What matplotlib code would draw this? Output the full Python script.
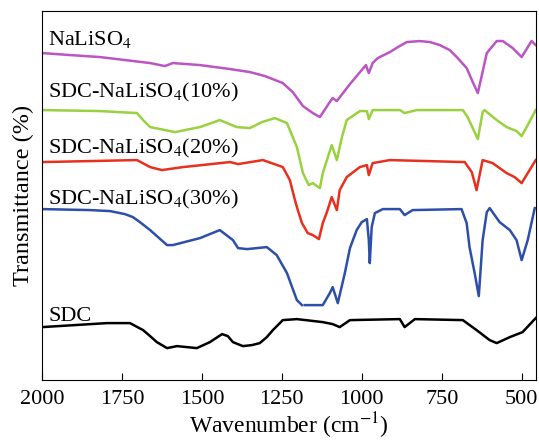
import numpy as np
import matplotlib
matplotlib.use("Agg")
import matplotlib.pyplot as plt

# ─────────────────────────────────────────────
#  Spectra (wavenumber cm-1, transmittance a.u.)
# ─────────────────────────────────────────────

naliso4_wn = [2000, 1912, 1819, 1662, 1616, 1591, 1506, 1412, 1350, 1303, 1247, 1216,
              1184, 1153, 1131, 1100, 1091, 1078, 1037, 987, 978, 966, 950, 912, 887,
              859, 819, 787, 756, 725, 703, 672, 653, 637, 609, 578, 559, 528, 500,
              469, 456]
naliso4_t = [327, 325, 323, 317, 314, 317, 315, 311, 308, 304, 297, 288,
             274, 267, 263, 278, 282, 279, 296, 315, 307, 317, 322, 328, 333,
             338, 339, 338, 335, 330, 323, 312, 298, 287, 327, 339, 339, 332, 323,
             339, 335]

sdc10_wn = [2000, 1819, 1703, 1684, 1662, 1584, 1506, 1444, 1391, 1350, 1312, 1272,
            1234, 1203, 1184, 1166, 1153, 1141, 1131, 1122, 1094, 1078, 1062, 1047,
            1006, 984, 978, 966, 881, 866, 828, 684, 669, 637, 622, 616, 578, 547,
            516, 500, 481, 456]
sdc10_t = [270, 269, 267, 260, 253, 248, 253, 260, 253, 252, 258, 262,
           257, 233, 207, 195, 197, 194, 192, 207, 235, 220, 243, 260,
           269, 269, 261, 270, 270, 267, 270, 270, 263, 241, 268, 270, 260, 253,
           249, 244, 255, 270]

sdc20_wn = [2000, 1703, 1662, 1625, 1559, 1412, 1387, 1309, 1247, 1225, 1209, 1200,
            1187, 1169, 1153, 1134, 1122, 1109, 1094, 1078, 1069, 1047, 1006, 984,
            978, 966, 912, 678, 656, 641, 622, 591, 547, 522, 500, 456]
sdc20_t = [218, 220, 213, 210, 213, 218, 216, 220, 213, 200, 180, 170,
           157, 147, 145, 141, 157, 168, 183, 170, 190, 203, 213, 215,
           205, 217, 220, 218, 208, 190, 220, 217, 207, 203, 197, 220]

# gap in the 30% trace near 1180 cm-1 is in the original
sdc30_wn = [2000, 1850, 1787, 1741, 1716, 1694, 1662, 1609, 1591, 1506, 1444, 1403,
            1387, 1359, 1297, 1266, 1234, 1203, 1187, 1182, 1178, 1122, 1100, 1091,
            1075, 1053, 1037, 1016, 1000, 984, 978, 975, 969, 959, 934, 881, 866,
            841, 688, 672, 663, 647, 634, 622, 609, 600, 569, 537, 516, 500, 481, 459]
sdc30_t = [171, 170, 169, 166, 163, 158, 150, 135, 135, 142, 150, 140,
           132, 131, 133, 125, 107, 80, 75, np.nan, 75, 75, 87, 93,
           77, 107, 132, 150, 158, 161, 140, 117, 153, 167, 171, 171, 165,
           170, 171, 157, 133, 107, 84, 140, 168, 172, 158, 150, 140, 120, 140, 172]

sdc_wn = [2000, 1797, 1725, 1684, 1662, 1641, 1609, 1578, 1547, 1516, 1475, 1456,
          1437, 1419, 1403, 1372, 1344, 1319, 1297, 1278, 1247, 1203, 1122, 1091,
          1069, 1037, 881, 866, 834, 684, 641, 600, 578, 537, 497, 456]
sdc_t = [53, 57, 57, 50, 44, 38, 32, 34, 33, 32, 38, 42,
         46, 44, 38, 34, 35, 37, 43, 50, 60, 61, 58, 56,
         53, 60, 61, 53, 61, 60, 50, 40, 37, 43, 48, 62]

labels = ["NaLiSO$_4$", "SDC-NaLiSO$_4$(10%)", "SDC-NaLiSO$_4$(20%)",
          "SDC-NaLiSO$_4$(30%)", "SDC"]
colors = ["#BB55C4", "#99D13F", "#E8301E", "#2D4FA8", "#000000"]
label_y = [335, 283, 227, 176, 59]

plt.rcParams["font.family"] = ["Liberation Serif", "DejaVu Serif"]
plt.rcParams["mathtext.fontset"] = "stix"

fig = plt.figure(figsize=(5.39, 4.42), dpi=100)
ax = fig.add_axes([0.078, 0.140, 0.9165, 0.835])

series = [(naliso4_wn, naliso4_t), (sdc10_wn, sdc10_t), (sdc20_wn, sdc20_t),
          (sdc30_wn, sdc30_t), (sdc_wn, sdc_t)]
for (wn, t), lab, col, ly in zip(series, labels, colors, label_y):
    ax.plot(wn, t, color=col, lw=1.8)
    ax.text(1981, ly, lab, fontsize=16, va="baseline", ha="left")

ax.set_xlim(2000, 455)
ax.set_ylim(0, 369)
ax.set_xticks([2000, 1750, 1500, 1250, 1000, 750, 500])
ax.set_yticks([])
ax.tick_params(axis="x", direction="in", length=5, labelsize=16, pad=7)
ax.set_xlabel("Wavenumber (cm$^{-1}$)", fontsize=17, labelpad=1)
ax.set_ylabel("Transmittance (%)", fontsize=17.5, labelpad=6)

fig.savefig("out.png", dpi=100)
